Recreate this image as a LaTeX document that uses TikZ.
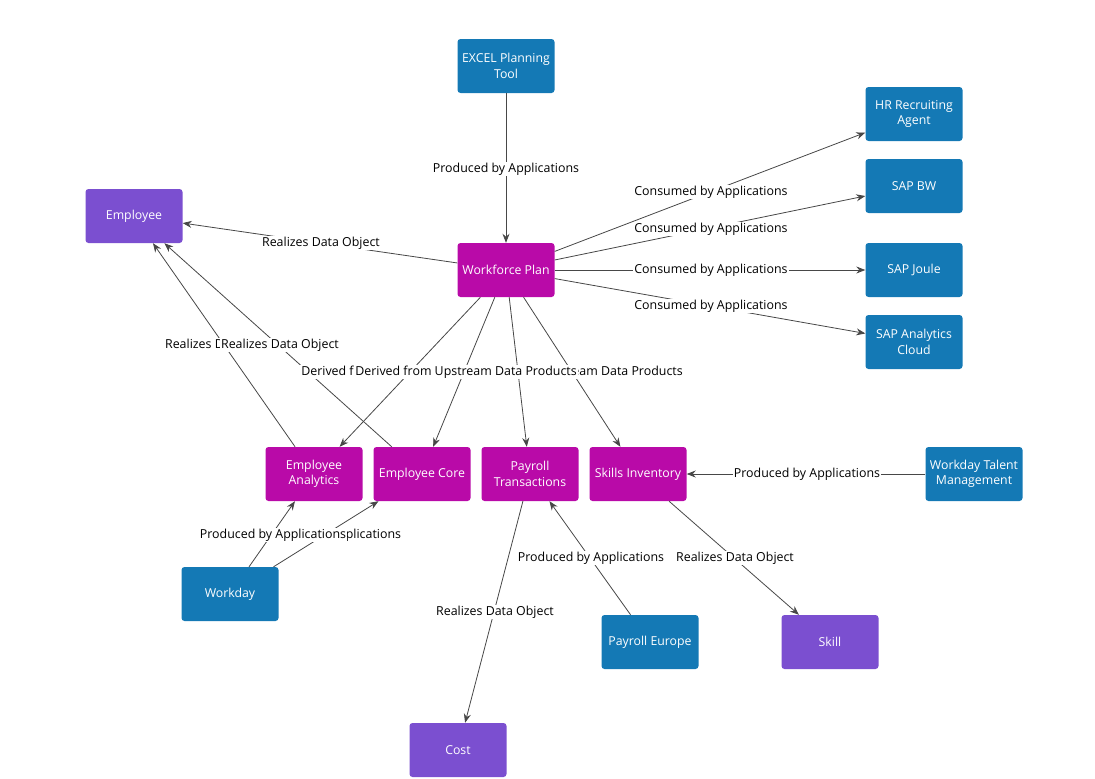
\documentclass[tikz,border=0pt]{standalone}
\usepackage{fontspec}
\setmainfont{Open Sans}
\usetikzlibrary{arrows.meta}
\definecolor{app}{HTML}{1479B5}
\definecolor{dp}{HTML}{B90AA8}
\definecolor{dobj}{HTML}{7B4FD0}
\definecolor{edge}{HTML}{474747}
\tikzset{
 box/.style={rounded corners=3pt,minimum width=97pt,minimum height=54pt,align=center,text=white,font=\fontsize{12.3}{15.5}\selectfont,inner sep=1pt},
 a/.style={box,fill=app},
 p/.style={box,fill=dp},
 o/.style={box,fill=dobj},
 e/.style={draw=edge,line width=0.8pt,-{Stealth[length=9pt,width=7pt]}},
 l/.style={fill=white,inner sep=1pt,font=\fontsize{12.4}{14}\selectfont,text=black}
}
\begin{document}
\begin{tikzpicture}[x=1pt,y=-1pt]
\useasboundingbox (0,0) rectangle (1095,779);
\node[a] (excel) at (506,66) {EXCEL Planning\\Tool};
\node[a] (hr) at (914,114) {HR Recruiting\\Agent};
\node[a] (bw) at (914,186) {SAP BW};
\node[a] (joule) at (914,270) {SAP Joule};
\node[a] (sac) at (914,342) {SAP Analytics\\Cloud};
\node[o] (emp) at (134,216) {Employee};
\node[p] (wp) at (506,270) {Workforce Plan};
\node[p] (ea) at (314,474) {Employee\\Analytics};
\node[p] (ec) at (422,474) {Employee Core};
\node[p] (pt) at (530,474) {Payroll\\Transactions};
\node[p] (si) at (638,474) {Skills Inventory};
\node[a] (wtm) at (974,474) {Workday Talent\\Management};
\node[a] (wd) at (230,594) {Workday};
\node[a] (pe) at (650,642) {Payroll Europe};
\node[o] (skill) at (830,642) {Skill};
\node[o] (cost) at (458,750) {Cost};

\draw[e] (excel) -- (wp);
\draw[e] (wp) -- (hr);
\draw[e] (wp) -- (bw);
\draw[e] (wp) -- (joule);
\draw[e] (wp) -- (sac);
\draw[e] (wp) -- (emp);
\draw[e] (ea) -- (emp);
\draw[e] (ec) -- (emp);
\draw[e] (wp) -- (ea);
\draw[e] (wp) -- (ec);
\draw[e] (wp) -- (pt);
\draw[e] (wp) -- (si);
\draw[e] (wd) -- (ea);
\draw[e] (wd) -- (ec);
\draw[e] (wtm) -- (si);
\draw[e] (pe) -- (pt);
\draw[e] (si) -- (skill);
\draw[e] (pt) -- (cost);

\node[l] (l1) at (506,169) {Produced by Applications};
\node[l] (l2) at (711,192) {Consumed by Applications};
\node[l] (l3) at (711,229) {Consumed by Applications};
\node[l] (l4) at (711,270) {Consumed by Applications};
\node[l] (l5) at (711,306) {Consumed by Applications};
\node[l] (l6) at (321,243) {Realizes Data Object};
\node[l] (l7) at (224,345) {Realizes Data Object};
\node[l] (l8) at (280,345) {Realizes Data Object};
\node[l] (d1) at (412,372) {Derived from Upstream Data Products};
\node[l] (d3) at (520,372) {Derived from Upstream Data Products};
\node[l] (d4) at (572,372) {Derived from Upstream Data Products};
\node[l] (d2) at (466,372) {Derived from Upstream Data Products};
\node[l] (w2) at (328,535) {Produced by Applications};
\node[l] (w1) at (273,535) {Produced by Applications};
\node[l] (l9) at (807,474) {Produced by Applications};
\node[l] (l10) at (591,558) {Produced by Applications};
\node[l] (l11) at (735,558) {Realizes Data Object};
\node[l] (l12) at (495,612) {Realizes Data Object};
\end{tikzpicture}
\end{document}
